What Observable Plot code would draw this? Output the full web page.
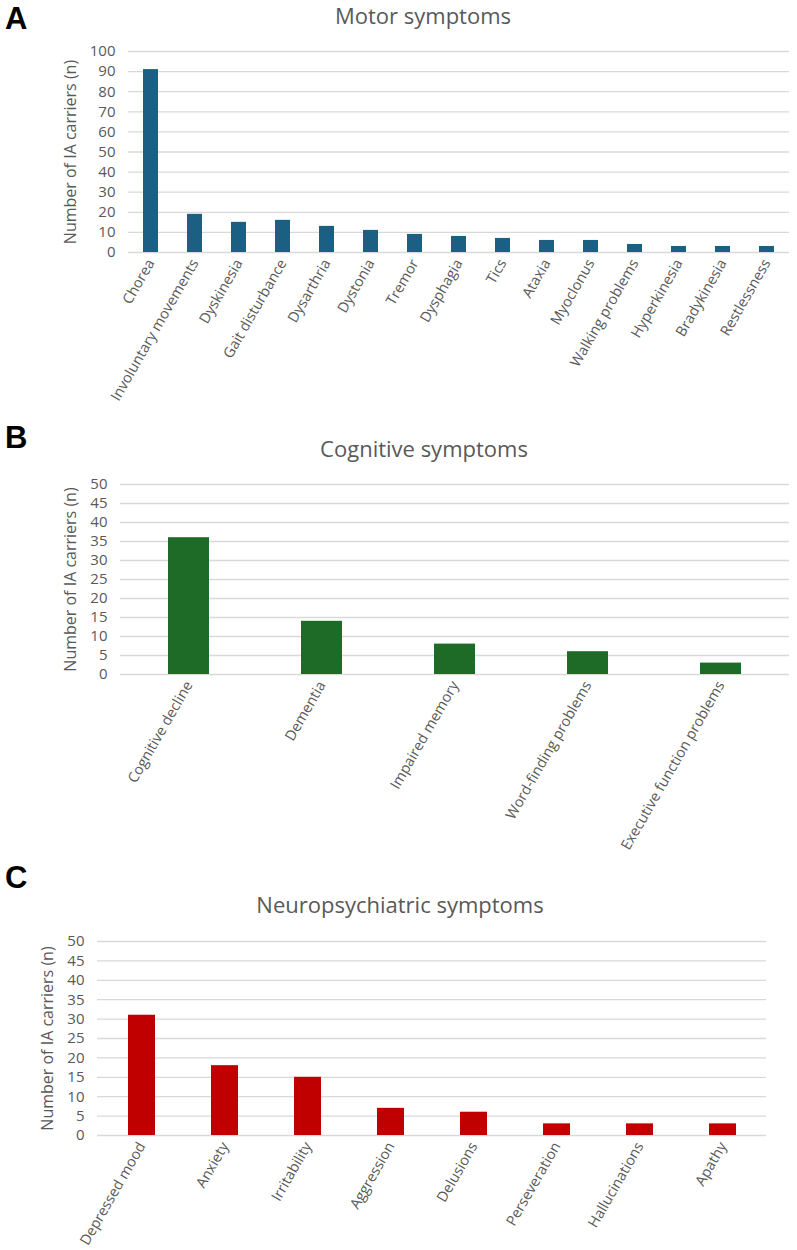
<!DOCTYPE html>
<html>
<head>
<meta charset="utf-8">
<script src="https://cdn.jsdelivr.net/npm/d3@7"></script>
<script src="https://cdn.jsdelivr.net/npm/@observablehq/plot@0.6"></script>
<style>
  body { margin: 0; background: #fff; }
  #fig { position: relative; width: 797px; height: 1250px; font-family: "Open Sans", sans-serif; overflow: hidden; }
  .letter { position: absolute; font-family: "Liberation Sans", Arial, sans-serif; font-weight: bold; font-size: 31px; color: #000; line-height: 1.15; }
  .title { position: absolute; transform: translateX(-50%); font-size: 22px; color: #595959; white-space: nowrap; line-height: 1.4; }
  .panel { position: absolute; left: 0; }
</style>
</head>
<body>
<div id="fig"></div>
<script>
// Motor symptoms
const motorSymptoms = ["Chorea", "Involuntary movements", "Dyskinesia", "Gait disturbance", "Dysarthria",
  "Dystonia", "Tremor", "Dysphagia", "Tics", "Ataxia", "Myoclonus", "Walking problems",
  "Hyperkinesia", "Bradykinesia", "Restlessness"];
const motorCounts = [91, 19, 15, 16, 13, 11, 9, 8, 7, 6, 6, 4, 3, 3, 3];
const motorTicks = [0, 10, 20, 30, 40, 50, 60, 70, 80, 90, 100];

// Cognitive symptoms
const cognitiveSymptoms = ["Cognitive decline", "Dementia", "Impaired memory", "Word-finding problems",
  "Executive function problems"];
const cognitiveCounts = [36, 14, 8, 6, 3];
const cognitiveTicks = [0, 5, 10, 15, 20, 25, 30, 35, 40, 45, 50];

// Neuropsychiatric symptoms
const psychSymptoms = ["Depressed mood", "Anxiety", "Irritability", "Aggression", "Delusions",
  "Perseveration", "Hallucinations", "Apathy"];
const psychCounts = [31, 18, 15, 7, 6, 3, 3, 3];
const psychTicks = [0, 5, 10, 15, 20, 25, 30, 35, 40, 45, 50];

const yLabel = "Number of IA carriers (n)";
const fig = document.getElementById("fig");

function addPanel(cfg) {
  const letter = document.createElement("div");
  letter.className = "letter";
  letter.textContent = cfg.letter;
  letter.style.left = "5px";
  letter.style.top = cfg.letterTop + "px";
  fig.appendChild(letter);

  const title = document.createElement("div");
  title.className = "title";
  title.textContent = cfg.title;
  title.style.left = cfg.titleX + "px";
  title.style.top = cfg.titleTop + "px";
  fig.appendChild(title);

  const data = cfg.categories.map((name, i) => ({name, value: cfg.values[i]}));
  const ticks = cfg.ticks;
  const chart = Plot.plot({
    width: 797,
    height: cfg.height,
    marginTop: cfg.marginTop,
    marginBottom: cfg.marginBottom,
    marginLeft: cfg.marginLeft,
    marginRight: cfg.marginRight,
    style: {fontFamily: "Open Sans, sans-serif", fontSize: "14px", color: "#595959", background: "transparent", overflow: "visible"},
    x: {domain: cfg.categories, paddingInner: cfg.pad, paddingOuter: cfg.pad / 2, align: 0.5},
    y: {domain: [0, ticks[ticks.length - 1]]},
    marks: [
      Plot.gridY(ticks, {stroke: "#d9d9d9", strokeOpacity: 1, strokeWidth: 1.3}),
      Plot.axisY(ticks, {tickSize: 0, tickPadding: 13, label: null, fontSize: 15, fill: "#595959"}),
      Plot.axisY({ticks: [], tickSize: 0, label: yLabel, labelAnchor: "center", labelArrow: "none",
        labelOffset: cfg.labelOffset, fontSize: 16, fill: "#595959"}),
      Plot.axisX({tickSize: 0, tickPadding: 8, tickRotate: -60, label: null, fontSize: 14.5, fill: "#595959"}),
      Plot.barY(data, {x: "name", y: "value", fill: cfg.color})
    ]
  });
  const holder = document.createElement("div");
  holder.className = "panel";
  holder.style.top = cfg.top + "px";
  holder.appendChild(chart);
  fig.appendChild(holder);
}

addPanel({
  letter: "A", letterTop: 1, title: "Motor symptoms", titleX: 423, titleTop: 0,
  categories: motorSymptoms, values: motorCounts, ticks: motorTicks, color: "#1b6083",
  top: 40, height: 375, marginTop: 11, marginBottom: 163, marginLeft: 128, marginRight: 8,
  pad: 0.66, labelOffset: 64
});

addPanel({
  letter: "B", letterTop: 420, title: "Cognitive symptoms", titleX: 424, titleTop: 433,
  categories: cognitiveSymptoms, values: cognitiveCounts, ticks: cognitiveTicks, color: "#1d6b27",
  top: 470, height: 395, marginTop: 14, marginBottom: 191, marginLeft: 120, marginRight: 8,
  pad: 0.69, labelOffset: 56
});

addPanel({
  letter: "C", letterTop: 860, title: "Neuropsychiatric symptoms", titleX: 400, titleTop: 889,
  categories: psychSymptoms, values: psychCounts, ticks: psychTicks, color: "#c00000",
  top: 925, height: 325, marginTop: 16, marginBottom: 115, marginLeft: 97, marginRight: 31,
  pad: 0.68, labelOffset: 56
});
</script>
</body>
</html>
